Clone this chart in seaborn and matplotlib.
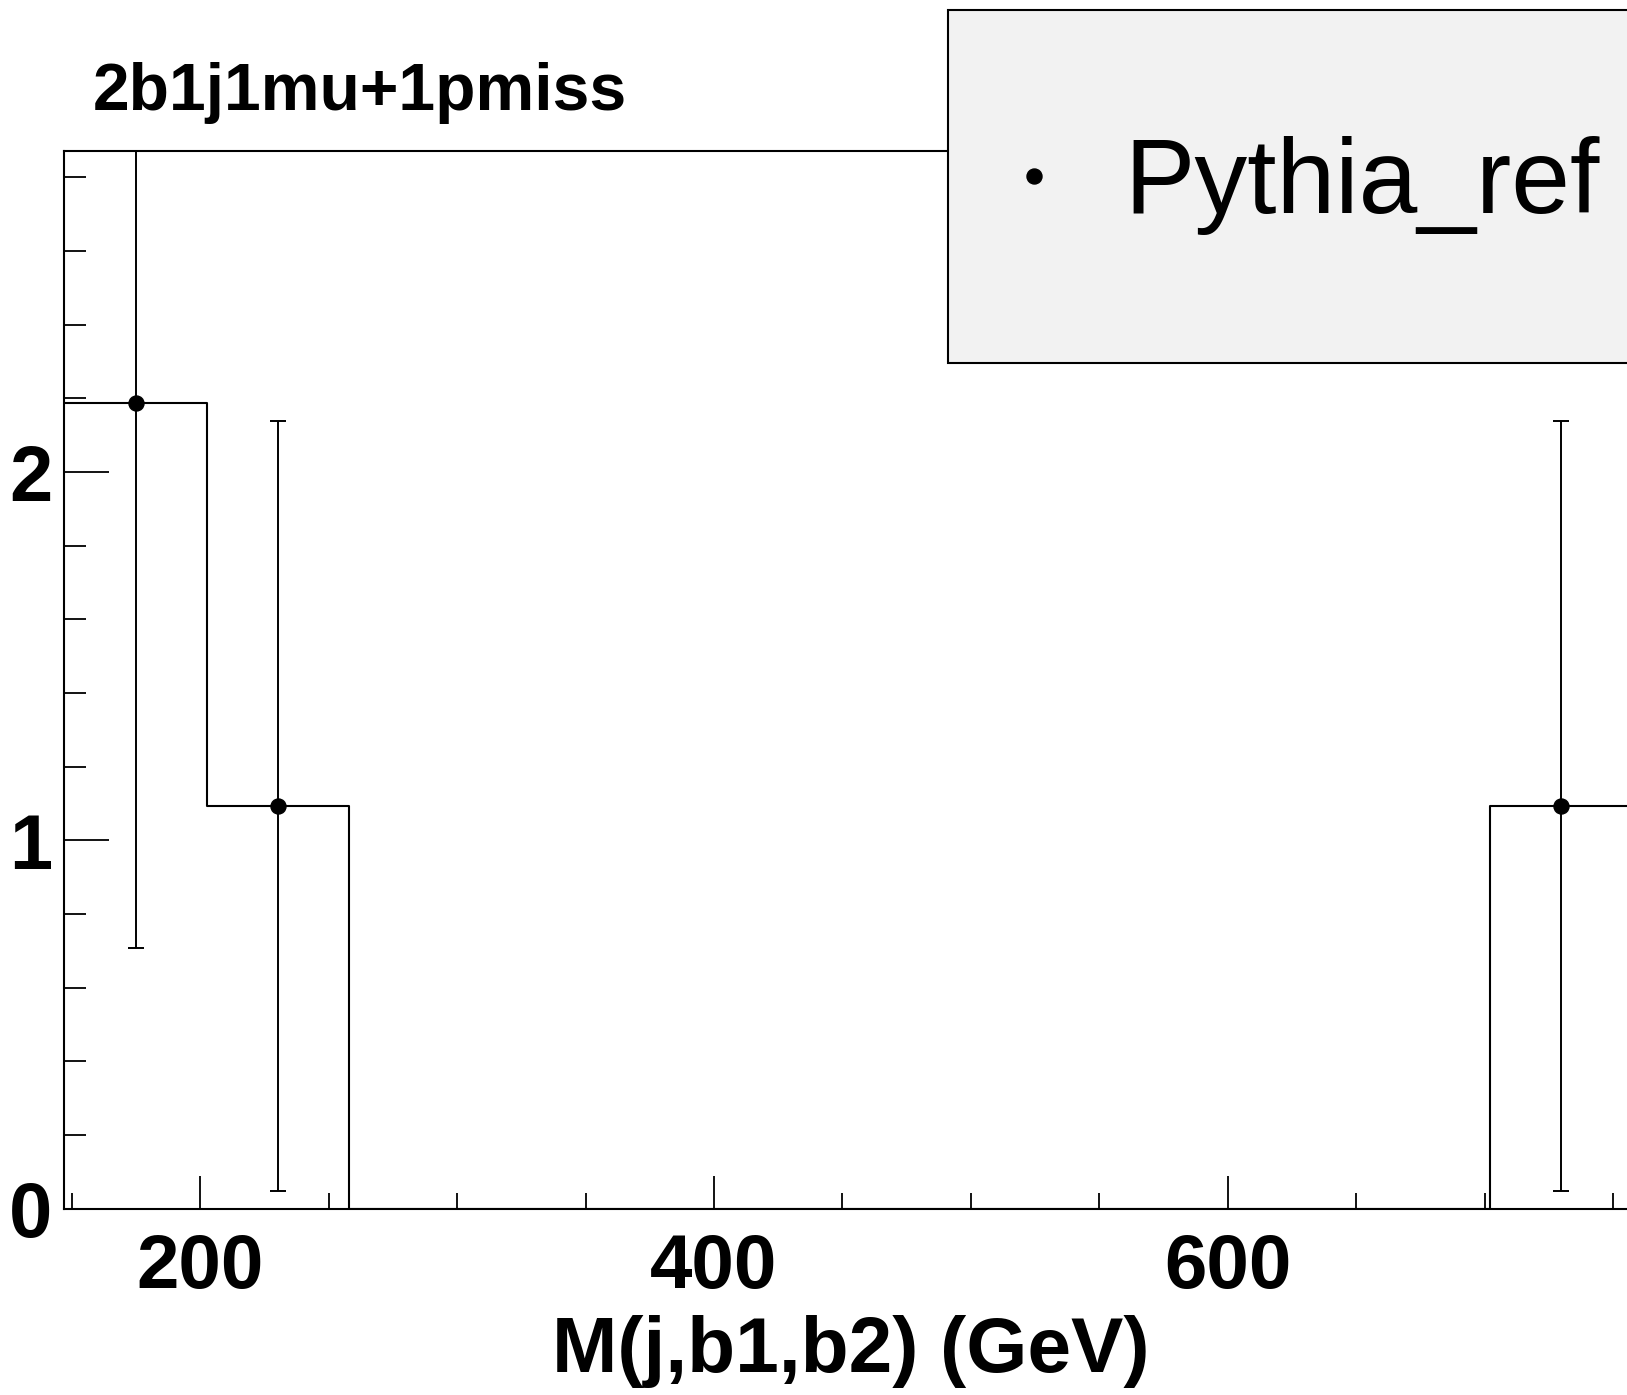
import numpy as np
import pandas as pd
import matplotlib
matplotlib.use('Agg')
import matplotlib.pyplot as plt
import seaborn as sns
from matplotlib.lines import Line2D
from matplotlib.patches import Rectangle
from matplotlib.ticker import MultipleLocator

# histogram binning (GeV)
bin_edges = np.linspace(147.1, 813.1, 13)
# bin contents and errors
counts = [2.187, 1.093, 0, 0, 0, 0, 0, 0, 0, 0, 1.093, 0]
errors = [1.478, 1.045, 0, 0, 0, 0, 0, 0, 0, 0, 1.045, 0]

df = pd.DataFrame({
    'center': 0.5 * (bin_edges[:-1] + bin_edges[1:]),
    'count': counts,
    'err': errors,
})

sns.set_style('ticks')
plt.rcParams['font.family'] = ['Liberation Sans', 'DejaVu Sans']
plt.rcParams['font.weight'] = 'bold'
for key in ['text.color', 'axes.labelcolor', 'xtick.color', 'ytick.color']:
    plt.rcParams[key] = 'black'

W, H = 1627, 1395
fig = plt.figure(figsize=(W / 100, H / 100), dpi=100)
ax = fig.add_axes([64.3 / W, 1 - 1208.8 / H, 1711 / W, 1058.3 / H])

# outline of the histogram
sns.histplot(data=df, x='center', weights='count', bins=bin_edges.tolist(),
             element='step', fill=False, color='black', linewidth=1.5, ax=ax)

# points with error bars (non-empty bins only)
pts = df[df['count'] > 0]
ax.errorbar(pts['center'], pts['count'], yerr=pts['err'], fmt='o',
            color='black', markersize=10.8, elinewidth=1.4, capsize=6,
            capthick=1.4, clip_on=True)

ax.set_xlim(bin_edges[0], bin_edges[-1])
ax.set_ylim(0, 2.873)
ax.set_ylabel('')
ax.set_xticks([200, 400, 600])
ax.xaxis.set_minor_locator(MultipleLocator(50))
ax.set_yticks([0, 1, 2])
ax.yaxis.set_minor_locator(MultipleLocator(0.2))

ax.tick_params(axis='x', which='major', direction='in', length=23.8, width=1.3,
               pad=17.5, labelsize=55)
ax.tick_params(axis='x', which='minor', direction='in', length=11.2, width=1.3)
ax.tick_params(axis='y', which='major', direction='in', length=32.4, width=1.3,
               pad=8.5, labelsize=56)
ax.tick_params(axis='y', which='minor', direction='in', length=15.8, width=1.3)
for lab in ax.get_xticklabels() + ax.get_yticklabels():
    lab.set_fontweight('bold')
for s in ax.spines.values():
    s.set_linewidth(1.5)
    s.set_color('black')

ax.set_xlabel('M(j,b1,b2) (GeV)', fontsize=56.5, fontweight='bold', va='baseline')
ax.xaxis.set_label_coords((851 - 64.3) / 1711, (1208.8 - 1372) / 1058.3)

fig.text(93 / W, 1 - 110 / H, '2b1j1mu+1pmiss', fontsize=47.5, fontweight='bold',
         ha='left', va='baseline')

# legend box
fig.patches.append(Rectangle((948 / W, 1 - 363 / H), 0.5, (363 - 10.4) / H,
                             transform=fig.transFigure, facecolor='#f2f2f2',
                             edgecolor='black', linewidth=1.5, zorder=5))
handle = Line2D([], [], marker='o', ls='none', color='black', markersize=10.8,
                label='Pythia_ref')
leg = fig.legend(handles=[handle], loc='center left',
                 bbox_to_anchor=(1008 / W, 1 - 185.4 / H), frameon=False,
                 borderpad=0, borderaxespad=0, handlelength=0.5,
                 handletextpad=0.6, prop={'size': 76, 'weight': 'normal'})
leg.set_zorder(6)

fig.savefig('out.png', dpi=100)
